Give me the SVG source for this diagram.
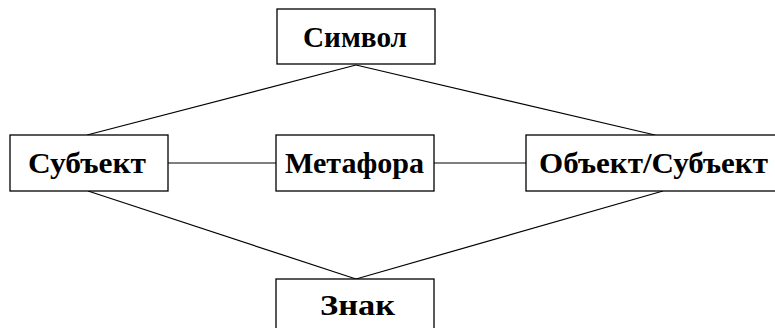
<svg xmlns="http://www.w3.org/2000/svg" width="775" height="328" viewBox="0 0 775 328">
<style>
.box{fill:#fff;stroke:#000;stroke-width:1.3}
.lbl{font-family:"Liberation Serif","Times New Roman",serif;font-weight:bold;font-size:29px;text-anchor:middle;fill:#000}
.ln{stroke:#000;stroke-width:1.2;fill:none}
</style>
<g id="connectors">
<line class="ln" x1="356" y1="65" x2="87" y2="135"/>
<line class="ln" x1="356" y1="65" x2="655" y2="135"/>
<line class="ln" x1="168" y1="163" x2="276" y2="163"/>
<line class="ln" x1="434" y1="163" x2="526" y2="163"/>
<line class="ln" x1="88" y1="191" x2="356" y2="279"/>
<line class="ln" x1="663" y1="191" x2="356" y2="279"/>
</g>
<g id="symbol">
<rect class="box" x="277" y="9" width="158" height="55"/>
<text class="lbl" x="355" y="47" textLength="104" lengthAdjust="spacingAndGlyphs">Символ</text>
</g>
<g id="subject">
<rect class="box" x="10" y="135" width="158" height="56"/>
<text class="lbl" x="87" y="173" textLength="118" lengthAdjust="spacingAndGlyphs">Субъект</text>
</g>
<g id="metaphor">
<rect class="box" x="276" y="135" width="158" height="56"/>
<text class="lbl" x="354.5" y="173" textLength="139" lengthAdjust="spacingAndGlyphs">Метафора</text>
</g>
<g id="object">
<rect class="box" x="526" y="135" width="250" height="56"/>
<text class="lbl" x="653.5" y="173" textLength="229" lengthAdjust="spacingAndGlyphs">Объект/Субъект</text>
</g>
<g id="sign">
<rect class="box" x="276" y="279" width="158" height="55"/>
<text class="lbl" x="357.5" y="315" textLength="75" lengthAdjust="spacingAndGlyphs">Знак</text>
</g>
</svg>
